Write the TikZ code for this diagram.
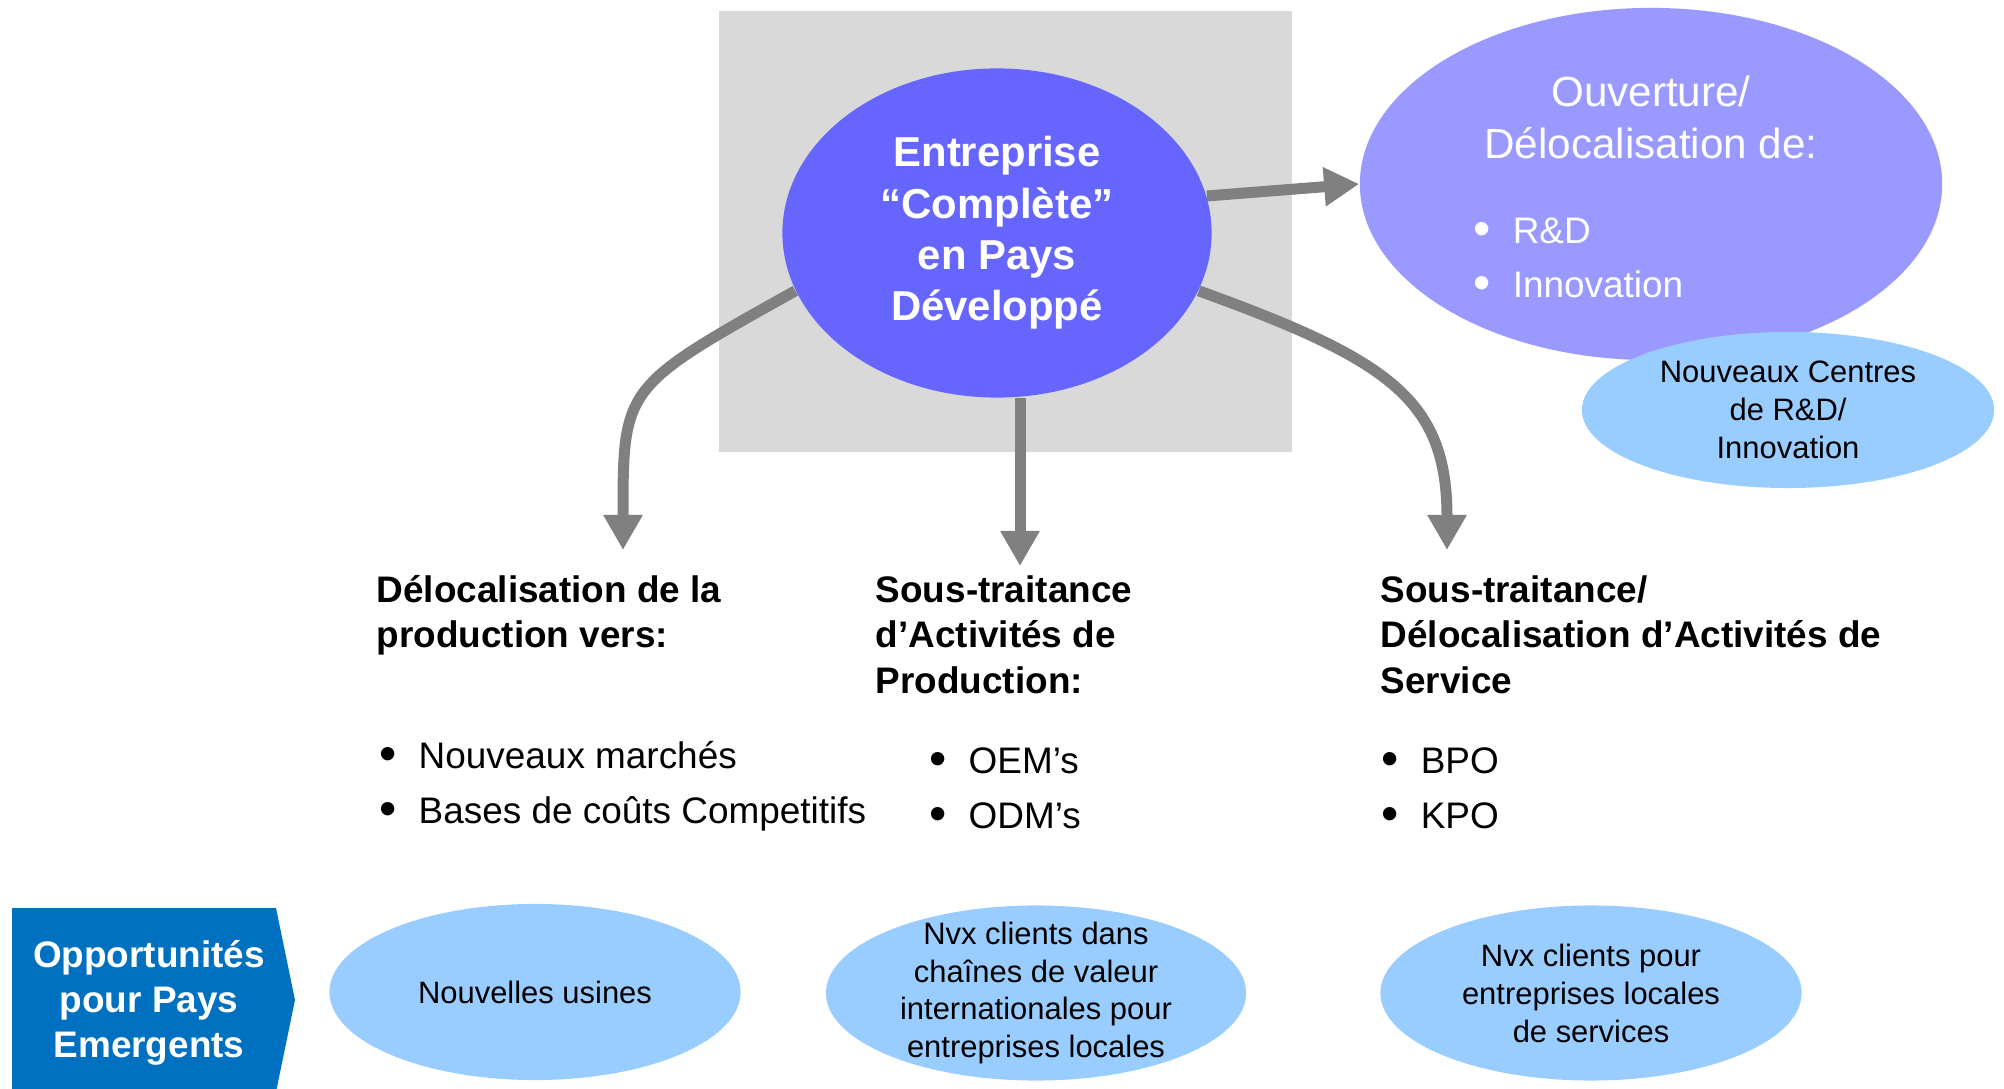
\documentclass[tikz,border=0pt]{standalone}
\usepackage{fontspec}
\setmainfont{Liberation Sans}
\usetikzlibrary{shapes.geometric,arrows.meta}
\definecolor{entblue}{HTML}{6666FF}
\definecolor{ouvblue}{HTML}{9999FF}
\definecolor{skyblue}{HTML}{99CCFF}
\definecolor{oppblue}{HTML}{0070C0}
\definecolor{arrowgrey}{HTML}{808080}
\definecolor{bggrey}{HTML}{D9D9D9}
\tikzset{
	flow/.style={draw=arrowgrey,line width=0.11cm,-{Triangle[length=0.35cm,width=0.37cm]}},
	blob/.style={ellipse,inner sep=0pt},
	head/.style={anchor=base west,inner sep=0pt,align=left,font=\bfseries\fontsize{10.5}{12.8}\selectfont},
	items/.style={anchor=base west,inner sep=0pt,align=left,font=\fontsize{10.5}{15.6}\selectfont},
	small/.style={align=center,inner sep=0pt,font=\fontsize{8.8}{10.8}\selectfont}
}
\newcommand\puce{\makebox[0.39cm][l]{\raisebox{-0.02cm}{\fontsize{14}{14}\selectfont\textbullet}}}
\begin{document}
\begin{tikzpicture}[x=0.01cm,y=-0.01cm]
		\useasboundingbox (0,0) rectangle (2004,1089);
		\fill[bggrey] (719,11) rectangle (1292,452);
		\node[blob,fill=entblue,minimum width=4.29cm,minimum height=3.29cm,text=white,align=center,font=\bfseries\fontsize{11.9}{14.6}\selectfont] (ent) at (997,233) {Entreprise\\“Complète”\\en Pays\\Développé};
		\node[blob,fill=ouvblue,minimum width=5.82cm,minimum height=3.52cm] (ouv) at (1651,184) {};
		\node[blob,fill=skyblue,minimum width=4.12cm,minimum height=1.56cm,small] (inno) at (1788,410) {Nouveaux Centres\\de R\&D/\\Innovation};
		\node[anchor=base,inner sep=0pt,align=center,text=white,font=\fontsize{12}{14.8}\selectfont] (ouvtitle) at (1651,159) {Ouverture/\\Délocalisation de:};
		\node[items,text=white] (ouvlist) at (1473,298) {\puce R\&D\\\puce Innovation};
		\coordinate (tipL) at (623,550);
		\coordinate (tipM) at (1020,566);
		\coordinate (tipR) at (1447,550);
		\draw[flow] (ent.196) .. controls (623,387) .. (tipL);
		\draw[flow] (ent.south -| tipM) -- (tipM);
		\draw[flow] (ent.-16) .. controls (1390,360) and (1447,400) .. (tipR);
		\draw[flow] (ent.10) -- (ouv.west);
		\node[head] (prod) at (376,648) {Délocalisation de la\\production vers:};
		\node[items] (prodlist) at (379,823) {\puce Nouveaux marchés\\\puce Bases de coûts Competitifs};
		\node[head] (soustr) at (875,693) {Sous-traitance\\d’Activités de\\Production:};
		\node[items] (soustrlist) at (929,828) {\puce OEM’s\\\puce ODM’s};
		\node[head] (serv) at (1380,693) {Sous-traitance/\\Délocalisation d’Activités de\\Service};
		\node[items] (servlist) at (1381,828) {\puce BPO\\\puce KPO};
		\fill[oppblue] (12,908) -- (276,908) -- (295,1000) -- (276,1092) -- (12,1092) -- cycle;
		\node[align=center,text=white,font=\bfseries\fontsize{10.5}{12.8}\selectfont] (opp) at (149,1003) {Opportunités\\pour Pays\\Emergents};
		\node[blob,fill=skyblue,minimum width=4.11cm,minimum height=1.76cm,small] (usines) at (535,992) {Nouvelles usines};
		\node[blob,fill=skyblue,minimum width=4.20cm,minimum height=1.75cm] (chaines) at (1036,993) {};
		\node[small] (chainestxt) at (chaines) {Nvx clients dans\\chaînes de valeur\\internationales pour\\entreprises locales};
		\node[blob,fill=skyblue,minimum width=4.21cm,minimum height=1.75cm,small] (locales) at (1591,993) {Nvx clients pour\\entreprises locales\\de services};
	\end{tikzpicture}
\end{document}
